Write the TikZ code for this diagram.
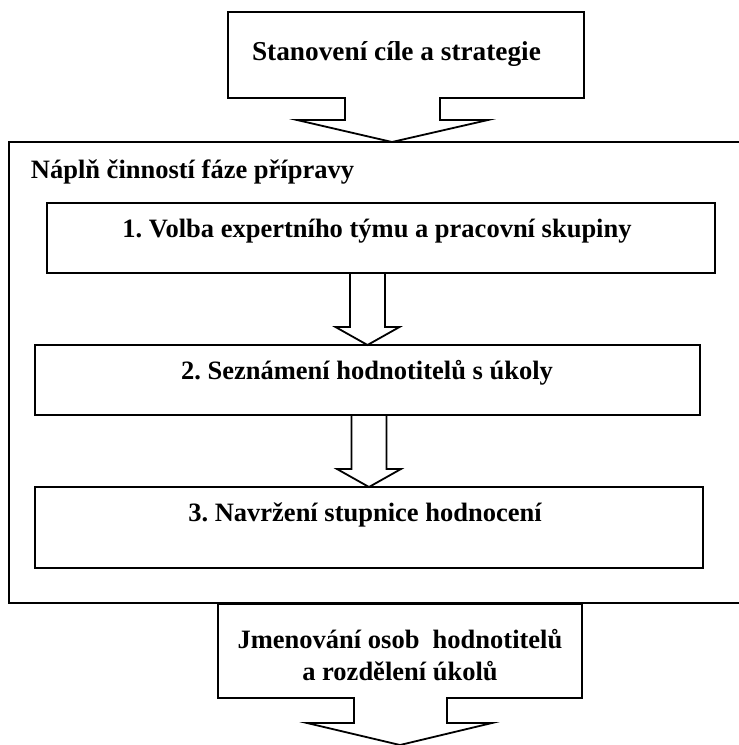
\documentclass[tikz,border=0pt]{standalone}
\usepackage{fontspec}
\setmainfont{Liberation Serif}
\frenchspacing

\begin{document}
\begin{tikzpicture}[x=1pt, y=-1pt, line width=1.8pt,
		box/.style={shape=rectangle, inner sep=0pt, outer sep=0pt},
		txt/.style={font=\fontsize{26.5}{32}\selectfont\bfseries, inner sep=0pt, anchor=base}]
			\useasboundingbox (0,0) rectangle (739,745);
			\clip (0,0) rectangle (739,745);
			% horni vyzva
			\node[box, minimum width=356pt, minimum height=86pt](Cil) at (406,55){};
			\draw (Cil.south west) -- (Cil.north west) -- (Cil.north east) -- (Cil.south east) -- ++(-144,0) -- ++(0,22) -- ++(48,0) -- ++(-96,22) -- ++(-95,-22) -- ++(48,0) -- ++(0,-22) -- cycle;
			\node[txt, font=\fontsize{27.3}{32}\selectfont\bfseries] at (396.5,60){Stanovení cíle a strategie};
			% ramec faze pripravy
			\node[box, draw, minimum width=760pt, minimum height=461pt](Faze) at (389,372.5){};
			\node[txt, anchor=base west] at (30,178){Náplň činností fáze přípravy};
			\node[box, draw, minimum width=668pt, minimum height=70pt](Krok1) at (381,238){};
			\node[txt] at (377,237){1. Volba expertního týmu a pracovní skupiny};
			\node[box, draw, minimum width=665pt, minimum height=70pt](Krok2) at (367.5,380){};
			\node[txt] at (367,379){2. Seznámení hodnotitelů s úkoly};
			\node[box, draw, minimum width=668pt, minimum height=81pt](Krok3) at (369,527.5){};
			\node[txt] at (365,521){3. Navržení stupnice hodnocení};
			\draw (Krok2.north) -- ++(-32,-18) -- ++(14.5,0) -- ++(0,-54) -- ++(35,0) -- ++(0,54) -- ++(14.5,0) -- cycle;
			\draw (Krok3.north) -- ++(-32,-18) -- ++(14.5,0) -- ++(0,-54) -- ++(35,0) -- ++(0,54) -- ++(14.5,0) -- cycle;
			% dolni vyzva
			\node[box, minimum width=364pt, minimum height=94pt](Jmen) at (400,651){};
			\draw (Jmen.south east) -- ++(-135,0) -- ++(0,25) -- ++(45,0) -- ++(-92,22) -- ++(-93,-22) -- ++(47,0) -- ++(0,-25) -- (Jmen.south west) -- (Jmen.north west) -- (Jmen.north east) -- cycle;
			\node[txt] at (400,648){Jmenování osob\ \ hodnotitelů};
			\node[txt] at (400,680){a rozdělení úkolů};
		\end{tikzpicture}
\end{document}
